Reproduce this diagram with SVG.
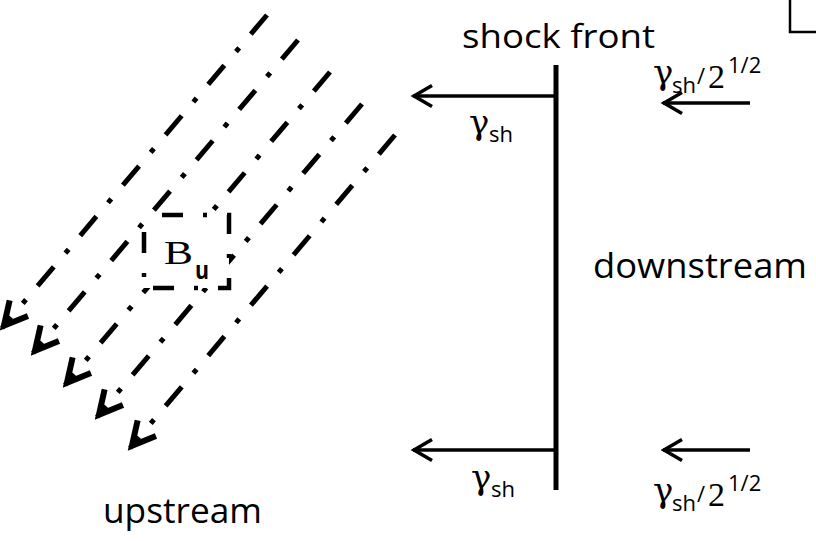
<svg xmlns="http://www.w3.org/2000/svg" width="816" height="541" viewBox="0 0 816 541">
<style>
.sans{font-family:"Open Sans","Noto Sans","Liberation Sans",sans-serif;fill:#000}
.serif{font-family:"Liberation Serif","DejaVu Serif",serif;fill:#000}
.greek{font-family:"DejaVu Serif","Liberation Serif",serif;fill:#000;font-size:34px}
.sub{font-family:"Open Sans","Noto Sans","Liberation Sans",sans-serif;fill:#000;font-size:22px}
.field{fill:none;stroke:#000;stroke-width:5;stroke-dasharray:25 18 5 18;marker-end:url(#chev)}
.flow{fill:none;stroke:#000;stroke-width:3.5;marker-end:url(#hchev)}
</style>
<defs>
<marker id="chev" markerUnits="userSpaceOnUse" orient="auto" refX="0" refY="0" markerWidth="40" markerHeight="40" viewBox="-30 -20 40 40" overflow="visible">
<path d="M-26,-12 L-3,0 L-26,12" fill="none" stroke="#000" stroke-width="6"/>
</marker>
<marker id="hchev" markerUnits="userSpaceOnUse" orient="auto" refX="0" refY="0" markerWidth="40" markerHeight="40" viewBox="-30 -20 40 40" overflow="visible">
<path d="M-19,-10.5 L-1,0 L-19,10.5" fill="none" stroke="#000" stroke-width="3.5"/>
</marker>
</defs>
<rect width="816" height="541" fill="#fff"/>

<g id="field-lines">
<path class="field" d="M267,15 L2,328"/>
<path class="field" d="M298,40 L33,353"/>
<path class="field" d="M330,72 L65,385"/>
<path class="field" d="M362,104 L97,417"/>
<path class="field" d="M395,135 L130,448"/>
</g>

<g id="Bu">
<path d="M144,215 H229 V288 H144 Z" fill="#fff" stroke="#000" stroke-width="4.5" stroke-dasharray="21 20 4 20" stroke-dashoffset="47"/>
<text class="serif" x="164" y="264" font-size="34" textLength="29" lengthAdjust="spacingAndGlyphs">B</text>
<text class="sans" x="195" y="279" font-size="25" font-weight="bold" textLength="14" lengthAdjust="spacingAndGlyphs">u</text>
</g>

<g id="shock-front">
<line x1="556" y1="65" x2="556" y2="490" stroke="#000" stroke-width="5"/>
<text class="sans" x="462" y="48" font-size="33" textLength="193" lengthAdjust="spacingAndGlyphs">shock front</text>
</g>

<g id="downstream">
<text class="sans" x="593" y="278" font-size="34" textLength="214" lengthAdjust="spacingAndGlyphs">downstream</text>
</g>

<g id="upstream">
<text class="sans" x="103" y="523" font-size="34" textLength="159" lengthAdjust="spacingAndGlyphs">upstream</text>
</g>

<g id="corner">
<path d="M790,-2 V32 H818" fill="none" stroke="#000" stroke-width="2.5"/>
</g>

<g id="connectors">
<path class="flow" d="M556,96 H413"/>
<path class="flow" d="M556,450 H413"/>
<path class="flow" d="M750,103 H663"/>
<path class="flow" d="M750,450 H663"/>
</g>

<g id="label-gsh-upper">
<text x="469" y="134"><tspan class="greek">γ</tspan><tspan class="sub" x="489" y="142">sh</tspan></text>
</g>
<g id="label-gsh-lower">
<text x="471" y="489"><tspan class="greek">γ</tspan><tspan class="sub" x="491" y="497">sh</tspan></text>
</g>
<g id="label-gsh2-upper">
<text x="653" y="84"><tspan class="greek">γ</tspan><tspan class="sub" x="672" y="93" font-size="20">sh</tspan><tspan class="sub" x="697" y="84">/</tspan><tspan class="serif" x="708" y="88" font-size="34">2</tspan><tspan class="sub" x="728" y="73" font-size="26">1/2</tspan></text>
</g>
<g id="label-gsh2-lower">
<text x="653" y="502"><tspan class="greek">γ</tspan><tspan class="sub" x="672" y="511" font-size="20">sh</tspan><tspan class="sub" x="697" y="502">/</tspan><tspan class="serif" x="708" y="506" font-size="34">2</tspan><tspan class="sub" x="728" y="491" font-size="26">1/2</tspan></text>
</g>
</svg>
